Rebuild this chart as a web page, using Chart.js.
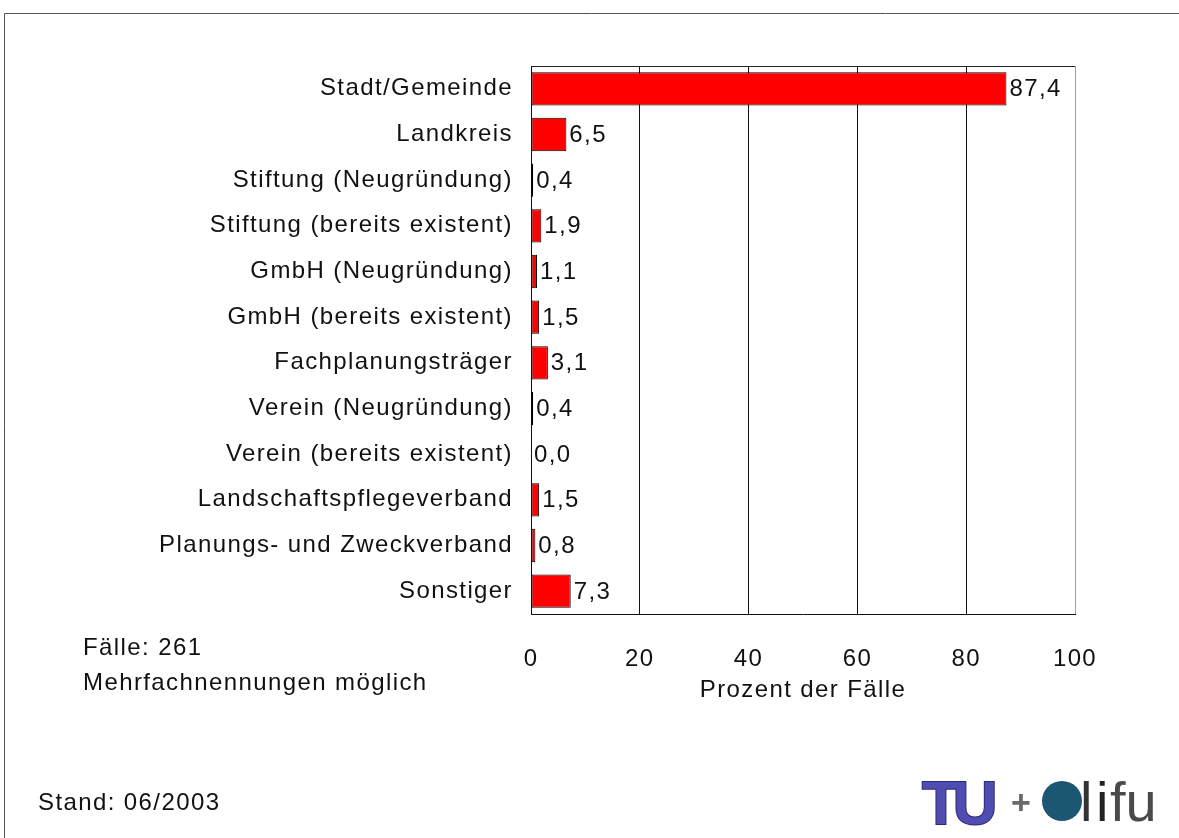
<!DOCTYPE html>
<html lang="de">
<head>
<meta charset="utf-8">
<title>Träger der Maßnahme</title>
<script src="https://cdn.jsdelivr.net/npm/chart.js@4.4.1/dist/chart.umd.min.js"></script>
<style>
  html, body { margin: 0; padding: 0; background: #ffffff; }
  #wrap { width: 1179px; height: 838px; }
</style>
</head>
<body>
<div id="wrap"><canvas id="c" width="1179" height="838"></canvas></div>
<script>
// Träger / Organisationsform, Prozent der Fälle
const categories = [
  'Stadt/Gemeinde',
  'Landkreis',
  'Stiftung (Neugründung)',
  'Stiftung (bereits existent)',
  'GmbH (Neugründung)',
  'GmbH (bereits existent)',
  'Fachplanungsträger',
  'Verein (Neugründung)',
  'Verein (bereits existent)',
  'Landschaftspflegeverband',
  'Planungs- und Zweckverband',
  'Sonstiger'
];
const percentValues = [87.4, 6.5, 0.4, 1.9, 1.1, 1.5, 3.1, 0.4, 0.0, 1.5, 0.8, 7.3];
const xTicks = [0, 20, 40, 60, 80, 100];
const axisTitle = 'Prozent der Fälle';
const noteLines = ['Fälle: 261', 'Mehrfachnennungen möglich'];
const standText = 'Stand: 06/2003';

const FONT = '"Liberation Sans", Arial, sans-serif';
const FONT_SIZE = 24;
const SPACING = '1.4px';
const TEXT_COLOR = '#111111';

const fmt = v => v.toFixed(1).replace('.', ',');

// letter spacing for all canvas text
const spacingPlugin = {
  id: 'spacing',
  beforeInit(chart) { chart.ctx.letterSpacing = SPACING; },
  beforeUpdate(chart) { chart.ctx.letterSpacing = SPACING; },
  beforeDraw(chart) { chart.ctx.letterSpacing = SPACING; }
};

// page frame, background and plot top edge
const framePlugin = {
  id: 'frame',
  beforeDraw(chart) {
    const ctx = chart.ctx;
    ctx.save();
    ctx.fillStyle = '#ffffff';
    ctx.fillRect(0, 0, chart.width, chart.height);
    ctx.strokeStyle = '#555555';
    ctx.lineWidth = 1;
    ctx.beginPath();
    ctx.moveTo(4.5, chart.height);
    ctx.lineTo(4.5, 13.5);
    ctx.lineTo(chart.width, 13.5);
    ctx.stroke();
    ctx.restore();
  },
  afterDraw(chart) {
    const {ctx, chartArea: a} = chart;
    ctx.save();
    ctx.strokeStyle = '#222222';
    ctx.lineWidth = 1;
    ctx.beginPath();
    ctx.moveTo(a.left, Math.round(a.top) + 0.5);
    ctx.lineTo(a.right, Math.round(a.top) + 0.5);
    ctx.stroke();
    ctx.restore();
  }
};

// value labels right of each bar
const valueLabels = {
  id: 'valueLabels',
  afterDatasetsDraw(chart) {
    const ctx = chart.ctx;
    const meta = chart.getDatasetMeta(0);
    ctx.save();
    ctx.letterSpacing = SPACING;
    ctx.font = FONT_SIZE + 'px ' + FONT;
    ctx.fillStyle = TEXT_COLOR;
    ctx.textAlign = 'left';
    ctx.textBaseline = 'middle';
    meta.data.forEach((bar, i) => {
      ctx.fillText(fmt(percentValues[i]), bar.x + 3, bar.y + 1);
    });
    ctx.restore();
  }
};

// notes, footer and signet
const notesPlugin = {
  id: 'notes',
  afterDraw(chart) {
    const ctx = chart.ctx;
    ctx.save();
    ctx.letterSpacing = SPACING;
    ctx.font = FONT_SIZE + 'px ' + FONT;
    ctx.fillStyle = TEXT_COLOR;
    ctx.textAlign = 'left';
    ctx.textBaseline = 'middle';
    ctx.fillText(noteLines[0], 83, 648);
    ctx.fillText(noteLines[1], 83, 683);
    ctx.fillText(standText, 38, 803);

    // TU + difu signet
    ctx.textBaseline = 'alphabetic';
    ctx.letterSpacing = '-7px';
    ctx.font = 'bold 62px ' + FONT;
    ctx.lineWidth = 2;
    ctx.strokeStyle = '#2c2a78';
    ctx.fillStyle = '#514cb0';
    ctx.strokeText('TU', 922, 824);
    ctx.fillText('TU', 922, 824);
    ctx.letterSpacing = '0px';
    ctx.font = 'bold 34px ' + FONT;
    ctx.fillStyle = '#6a6a6a';
    ctx.fillText('+', 1011, 814);
    ctx.beginPath();
    ctx.fillStyle = '#1d5673';
    ctx.arc(1062, 801, 20, 0, Math.PI * 2);
    ctx.fill();
    ctx.font = '56px ' + FONT;
    ctx.fillStyle = '#333333';
    ctx.fillText('l', 1080, 821);
    ctx.fillStyle = '#222222';
    ctx.fillText('i', 1096, 821);
    ctx.fillStyle = '#4a4a4a';
    ctx.fillText('fu', 1110, 821);
    ctx.restore();
  }
};

new Chart(document.getElementById('c'), {
  type: 'bar',
  data: {
    labels: categories,
    datasets: [{
      data: percentValues,
      backgroundColor: '#ff0000',
      borderColor: '#000000',
      borderWidth: 1,
      borderSkipped: false,
      barPercentage: 0.73,
      categoryPercentage: 1
    }]
  },
  options: {
    indexAxis: 'y',
    responsive: false,
    animation: false,
    events: [],
    layout: { padding: { left: 0, top: 66, right: 104, bottom: 124 } },
    plugins: { legend: { display: false }, tooltip: { enabled: false } },
    scales: {
      x: {
        type: 'linear',
        min: 0,
        max: 100,
        afterBuildTicks(scale) { scale.ticks = xTicks.map(v => ({ value: v })); },
        afterFit(scale) { scale.height = 100; },
        grid: {
          drawTicks: false,
          color: ctx => (ctx.tick && ctx.tick.value === 100) ? '#a0a0a0' : '#111111',
          lineWidth: 1
        },
        border: { display: true, color: '#111111', width: 1 },
        ticks: {
          padding: 31,
          color: TEXT_COLOR,
          font: { family: FONT, size: FONT_SIZE },
          maxRotation: 0
        },
        title: {
          display: true,
          text: axisTitle,
          color: TEXT_COLOR,
          font: { family: FONT, size: FONT_SIZE },
          padding: { top: 0, bottom: 9 }
        }
      },
      y: {
        type: 'category',
        afterFit(scale) { scale.width = 531; },
        grid: { display: false, drawTicks: false },
        border: { display: true, color: '#111111', width: 1 },
        ticks: {
          padding: 18,
          color: TEXT_COLOR,
          font: { family: FONT, size: FONT_SIZE },
          autoSkip: false
        }
      }
    }
  },
  plugins: [spacingPlugin, framePlugin, valueLabels, notesPlugin]
});
</script>
</body>
</html>
